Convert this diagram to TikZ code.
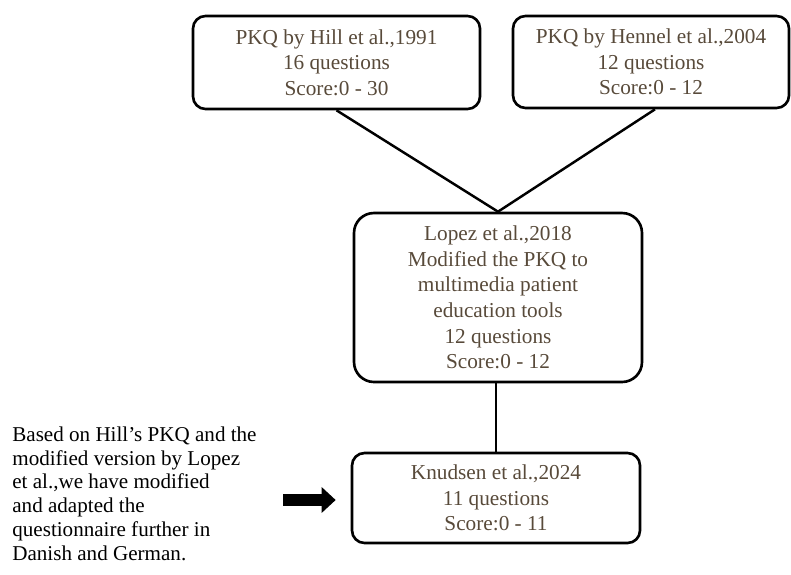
\documentclass[tikz,border=0pt]{standalone}
\usepackage{fontspec}
\setmainfont{Liberation Serif}
\usetikzlibrary{arrows.meta}
\definecolor{txtbrown}{RGB}{88,74,58}

\begin{document}
\begin{tikzpicture}[
    stagebox/.style={draw,line width=1.5pt,rounded corners=0.25cm,align=center,
        text=txtbrown,font=\fontsize{12.1}{14.6}\selectfont,inner sep=0pt},
    link/.style={line width=1.4pt},
    bigarrow/.style={line width=0.24cm,-{Triangle[length=0.28cm,width=0.5cm]}}
  ]
  \useasboundingbox (0,0) rectangle (15.82,11.48);

  % the two original questionnaires
  \node[stagebox,minimum width=5.74cm,minimum height=1.86cm] (hill) at (6.73,10.23)
    {PKQ by Hill et al.,1991\\16 questions\\Score:0 - 30};
  \node[stagebox,minimum width=5.52cm,minimum height=1.84cm] (hennel) at (13.02,10.24)
    {PKQ by Hennel et al.,2004\\12 questions\\Score:0 - 12};

  % modified versions
  \node[stagebox,minimum width=5.76cm,minimum height=3.38cm,rounded corners=0.4cm] (lopez) at (9.96,5.53)
    {Lopez et al.,2018\\Modified the PKQ to\\multimedia patient\\education tools\\12 questions\\Score:0 - 12};
  \node[stagebox,minimum width=5.76cm,minimum height=1.80cm] (knudsen) at (9.92,1.52)
    {Knudsen et al.,2024\\11 questions\\Score:0 - 11};

  \draw[link] ([xshift=0.08cm]hennel.south) -- (lopez.north);
  \draw[link] (hill.south) -- (lopez.north);
  \draw[link] (lopez.south -| knudsen.north) -- (knudsen.north);

  \node[anchor=north west,align=left,inner sep=0pt,font=\fontsize{12}{13.5}\selectfont] (note) at (0.24,2.95)
    {Based on Hill’s PKQ and the\\modified version by Lopez\\et al.,we have modified\\and adapted the\\questionnaire further in\\Danish and German.};

  \coordinate (tail) at (5.66,1.48);
  \draw[bigarrow,shorten >=0.3cm] (tail) -- (tail -| knudsen.west);
\end{tikzpicture}
\end{document}
